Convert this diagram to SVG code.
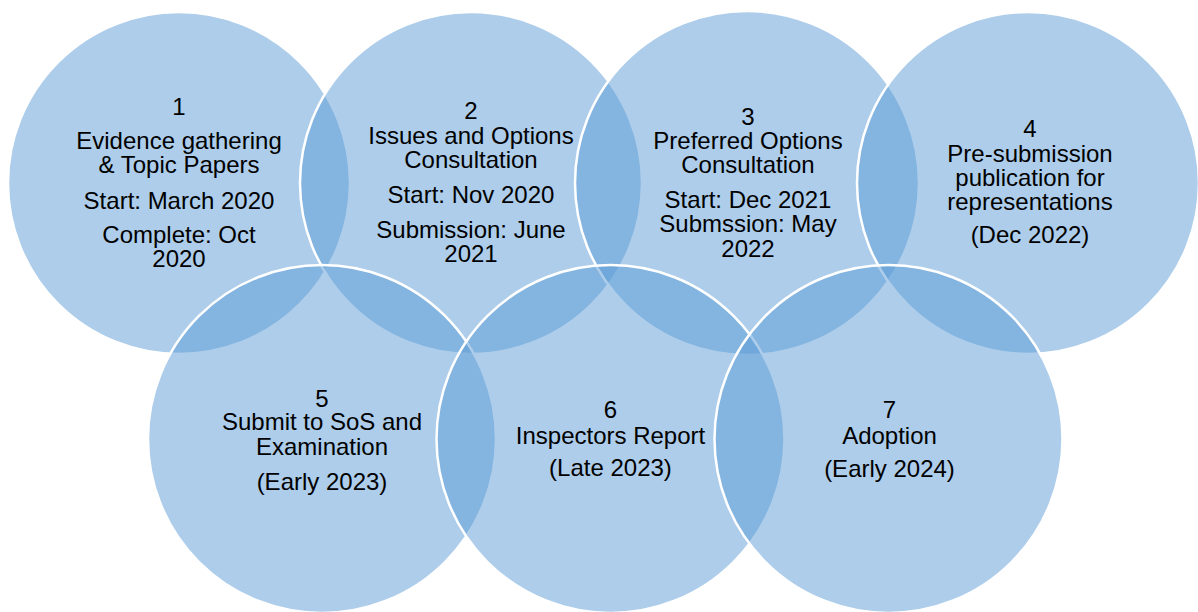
<svg xmlns="http://www.w3.org/2000/svg" width="1198" height="612" viewBox="0 0 1198 612">
<style>
.c{fill:#5B9BD5;fill-opacity:0.5;stroke:#FFFFFF;stroke-width:2.5}
text{font-family:"Liberation Sans",Arial,sans-serif;font-size:24px;fill:#000000;text-anchor:middle}
</style>
<rect width="1198" height="612" fill="#FFFFFF"/>
<g id="connectors"></g>
<g id="node1"><circle class="c" cx="179" cy="183" r="171"/></g>
<g id="node2"><circle class="c" cx="471" cy="183" r="171"/></g>
<g id="node3"><circle class="c" cx="747" cy="183" r="172"/></g>
<g id="node4"><circle class="c" cx="1028" cy="183" r="171"/></g>
<g id="node5"><circle class="c" cx="322" cy="439" r="174"/></g>
<g id="node6"><circle class="c" cx="610.5" cy="439" r="174"/></g>
<g id="node7"><circle class="c" cx="888.5" cy="439" r="174"/></g>
<g id="labels">
<g id="label1">
<text x="179" y="115">1</text>
<text x="179" y="149">Evidence gathering</text>
<text x="179" y="173">&amp; Topic Papers</text>
<text x="179" y="209">Start: March 2020</text>
<text x="179" y="243">Complete: Oct</text>
<text x="179" y="267">2020</text>
</g>
<g id="label2">
<text x="471" y="119">2</text>
<text x="471" y="143.5">Issues and Options</text>
<text x="471" y="168">Consultation</text>
<text x="471" y="203">Start: Nov 2020</text>
<text x="471" y="237.5">Submission: June</text>
<text x="471" y="261.5">2021</text>
</g>
<g id="label3">
<text x="748" y="125">3</text>
<text x="748" y="148.5">Preferred Options</text>
<text x="748" y="173">Consultation</text>
<text x="748" y="208">Start: Dec 2021</text>
<text x="748" y="232">Submssion: May</text>
<text x="748" y="256.5">2022</text>
</g>
<g id="label4">
<text x="1030" y="136.5">4</text>
<text x="1030" y="162">Pre-submission</text>
<text x="1030" y="186">publication for</text>
<text x="1030" y="209.5">representations</text>
<text x="1030" y="242.5">(Dec 2022)</text>
</g>
<g id="label5">
<text x="322" y="406.5">5</text>
<text x="322" y="430">Submit to SoS and</text>
<text x="322" y="455">Examination</text>
<text x="322" y="490">(Early 2023)</text>
</g>
<g id="label6">
<text x="610.5" y="418">6</text>
<text x="610.5" y="444">Inspectors Report</text>
<text x="610.5" y="476">(Late 2023)</text>
</g>
<g id="label7">
<text x="889.5" y="418">7</text>
<text x="889.5" y="444">Adoption</text>
<text x="889.5" y="477">(Early 2024)</text>
</g>
</g>
</svg>
